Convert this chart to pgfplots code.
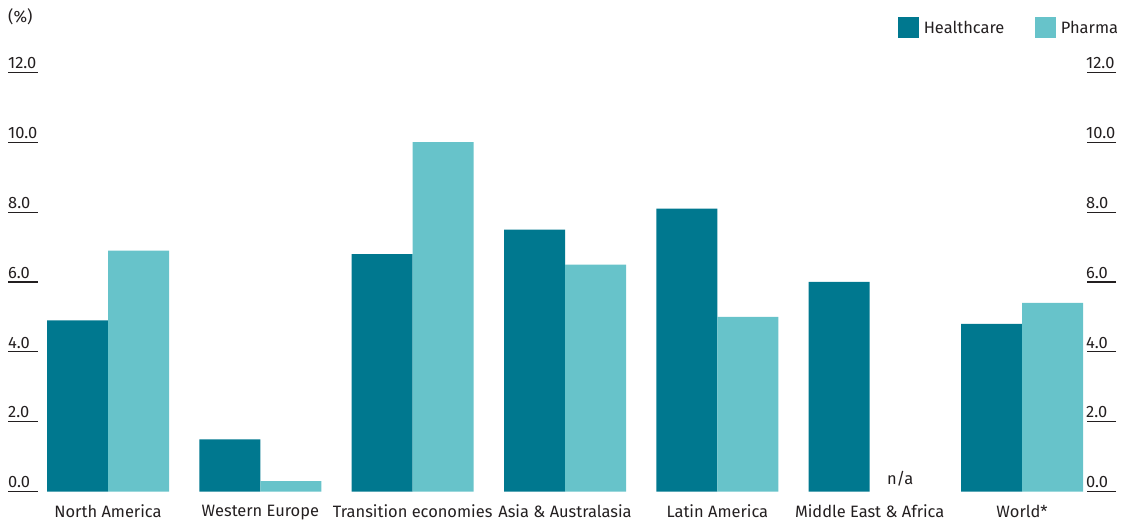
\documentclass[border=0pt]{standalone}
\usepackage{pgfplots}
\pgfplotsset{compat=1.18}
\usepackage{fontspec}
\setmainfont{Fira Sans}
\definecolor{hc}{HTML}{00788F}
\definecolor{ph}{HTML}{67C3CA}
\definecolor{txt}{HTML}{231F20}
\newcommand{\lf}{\fontsize{16.5}{19}\selectfont}
\begin{document}
\begin{tikzpicture}
\useasboundingbox (0,0) rectangle (1136bp,520bp);
\pgfplotsset{common/.style={
 scale only axis, width=1108bp, height=419.4bp,
 at={(8bp,28.3bp)}, anchor=south west,
 xmin=-0.6565, xmax=6.617, ymin=0, ymax=12,
 axis line style={draw=none},
 ytick={0,2,...,12},
 tick align=inside, major tick length=29.5bp,
 ytick style={draw=txt, line width=1.1bp},
 yticklabel style={font=\lf, text=txt, inner sep=0pt, yshift=3.5bp,
   /pgf/number format/fixed, /pgf/number format/fixed zerofill,
   /pgf/number format/precision=1, /pgf/number format/assume math mode=true},
 clip=false,
}}
\begin{axis}[common,
 ybar=0pt, bar width=61bp,
 ytick pos=left,
 yticklabel style={anchor=south west},
 xtick={0,...,6},
 xticklabels={North America, Western Europe, Transition economies, Asia \& Australasia, Latin America, Middle East \& Africa, World*},
 xtick style={draw=none},
 xticklabel style={font=\lf, text=txt, anchor=north, inner sep=0pt, yshift=16.5bp},
 legend style={at={(1.0018,1.1319)}, anchor=north east, draw=none, fill=none,
   inner sep=0pt, outer sep=0pt, font=\lf, text=txt,
   nodes={inner sep=0pt},
   /tikz/every odd column/.append style={column sep=4.5bp},
   /tikz/every even column/.append style={column sep=31bp}},
 legend columns=2,
]
\addplot[fill=hc, draw=none,
  legend image code/.code={\fill[hc] (0bp,-9.5bp) rectangle (21bp,11.5bp);}]
  coordinates {(0,4.9) (1,1.5) (2,6.8) (3,7.5) (4,8.1) (5,6.0) (6,4.8)};
\addlegendentry{Healthcare}
\addplot[fill=ph, draw=none,
  legend image code/.code={\fill[ph] (0bp,-9.5bp) rectangle (21bp,11.5bp);}]
  coordinates {(0,6.9) (1,0.3) (2,10.0) (3,6.5) (4,5.0) (6,5.4)};
\addlegendentry{Pharma}
\node[anchor=base, font=\lf, text=txt, inner sep=0pt, yshift=7bp] at (axis cs:5.2,0) {n/a};
\node[anchor=base west, font=\lf, text=txt, inner sep=0pt, yshift=50bp] at (rel axis cs:0,1) {(\%)};
\end{axis}
\begin{axis}[common,
 ytick pos=right, yticklabel pos=right,
 yticklabel style={anchor=south west, xshift=-30bp},
 xtick=\empty,
]
\end{axis}
\end{tikzpicture}
\end{document}
